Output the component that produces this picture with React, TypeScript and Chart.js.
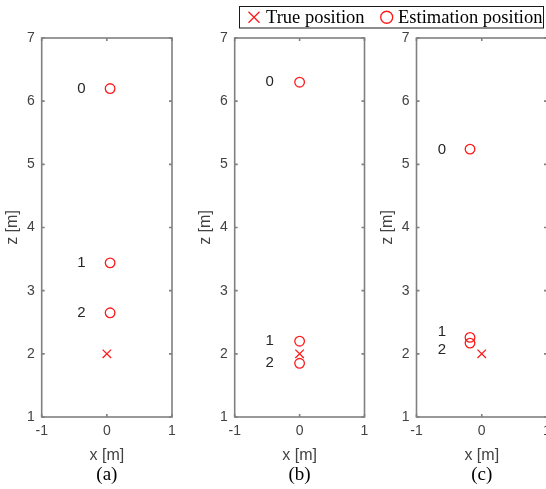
import React, { useEffect, useRef } from 'react';
import { Chart, registerables } from 'chart.js';

Chart.register(...registerables);

// ---------- data ----------
const panelCaptions = ['(a)', '(b)', '(c)'];
const xTickValues = [-1, 0, 1];
const zTickValues = [1, 2, 3, 4, 5, 6, 7];
const stepLabels = ['0', '1', '2'];
const legendLabels = ['True position', 'Estimation position'];

// true position per panel
const trueX = [0, 0, 0];
const trueZ = [2, 2, 2];

// estimated positions (steps 0,1,2) per panel
const estX_a = [0.05, 0.05, 0.05];
const estZ_a = [6.2, 3.44, 2.65];
const estX_b = [0, 0, 0];
const estZ_b = [6.3, 2.2, 1.85];
const estX_c = [-0.18, -0.18, -0.18];
const estZ_c = [5.24, 2.26, 2.17];

// step label anchors
const labelX_a = [-0.39, -0.39, -0.39];
const labelZ_a = [6.2, 3.44, 2.65];
const labelX_b = [-0.46, -0.46, -0.46];
const labelZ_b = [6.31, 2.2, 1.86];
const labelX_c = [-0.61, -0.61, -0.61];
const labelZ_c = [5.23, 2.35, 2.06];

const estXs = [estX_a, estX_b, estX_c];
const estZs = [estZ_a, estZ_b, estZ_c];
const labelXs = [labelX_a, labelX_b, labelX_c];
const labelZs = [labelZ_a, labelZ_b, labelZ_c];

// ---------- layout / style ----------
const CANVAS_W = 600;
const CANVAS_H = 489;
const panelLeft = [41.7, 234.7, 416.5];
const panelRight = [172, 364.5, 547];
const Y_AXIS_W = 41.5;
const X_AXIS_H = 50;
const RED = '#ff1a1a';
const AXIS_COLOR = '#808080';
const TICK_TEXT = '#424242';
const SANS = '"Liberation Sans", Arial, sans-serif';
const SERIF = '"Liberation Serif", "Times New Roman", serif';

function makePlugin(idx: number) {
  return {
    id: 'panelDecor' + idx,
    afterDraw(chart: any) {
      const ctx = chart.ctx;
      const { left, right, top, bottom } = chart.chartArea;
      const xs = chart.scales.x;
      const ys = chart.scales.y;
      ctx.save();
      // box
      ctx.strokeStyle = AXIS_COLOR;
      ctx.lineWidth = 1.6;
      ctx.strokeRect(left, top, right - left, bottom - top);
      // inward ticks
      const tl = 3;
      ctx.beginPath();
      for (const v of zTickValues) {
        const py = ys.getPixelForValue(v);
        ctx.moveTo(left, py);
        ctx.lineTo(left + tl, py);
        ctx.moveTo(right, py);
        ctx.lineTo(right - tl, py);
      }
      for (const v of xTickValues) {
        const px = xs.getPixelForValue(v);
        ctx.moveTo(px, bottom);
        ctx.lineTo(px, bottom - tl);
        ctx.moveTo(px, top);
        ctx.lineTo(px, top + tl);
      }
      ctx.stroke();
      // step labels
      ctx.fillStyle = '#262626';
      ctx.font = '15px ' + SANS;
      ctx.textAlign = 'center';
      ctx.textBaseline = 'middle';
      const lx = labelXs[idx];
      const lz = labelZs[idx];
      for (let i = 0; i < stepLabels.length; i++) {
        ctx.fillText(stepLabels[i], xs.getPixelForValue(lx[i]), ys.getPixelForValue(lz[i]));
      }
      // caption
      ctx.fillStyle = '#000';
      ctx.font = '19px ' + SERIF;
      ctx.fillText(panelCaptions[idx], xs.getPixelForValue(0), 475);

      // legend (drawn once, on the last panel)
      if (idx === 2) {
        const bx = 239, by = 6, bw = 304, bh = 21.5;
        ctx.fillStyle = '#fff';
        ctx.fillRect(bx, by, bw, bh);
        ctx.strokeStyle = '#1a1a1a';
        ctx.lineWidth = 1;
        ctx.strokeRect(bx + 0.5, by + 0.5, bw, bh);
        const cy = by + bh / 2 + 0.5;
        // cross
        ctx.strokeStyle = RED;
        ctx.lineWidth = 1.3;
        const cx = 254, h = 5.5;
        ctx.beginPath();
        ctx.moveTo(cx - h, cy - h);
        ctx.lineTo(cx + h, cy + h);
        ctx.moveTo(cx - h, cy + h);
        ctx.lineTo(cx + h, cy - h);
        ctx.stroke();
        // circle
        ctx.beginPath();
        ctx.arc(386.7, cy, 6, 0, Math.PI * 2);
        ctx.stroke();
        ctx.fillStyle = '#000';
        ctx.font = '18.5px ' + SERIF;
        ctx.textAlign = 'left';
        ctx.textBaseline = 'middle';
        ctx.fillText(legendLabels[0], 266, cy + 1);
        ctx.fillText(legendLabels[1], 398, cy + 1);
      }
      ctx.restore();
    },
  };
}

function buildConfig(idx: number): any {
  return {
    type: 'scatter',
    data: {
      datasets: [
        {
          label: legendLabels[0],
          data: [{ x: trueX[idx], y: trueZ[idx] }],
          pointStyle: 'crossRot',
          pointRadius: 6,
          borderColor: RED,
          backgroundColor: 'transparent',
          borderWidth: 1.3,
        },
        {
          label: legendLabels[1],
          data: estXs[idx].map((x, i) => ({ x, y: estZs[idx][i] })),
          pointStyle: 'circle',
          pointRadius: 4.8,
          borderColor: RED,
          backgroundColor: 'transparent',
          borderWidth: 1.3,
        },
      ],
    },
    options: {
      responsive: false,
      animation: false,
      devicePixelRatio: 1,
      events: [],
      layout: {
        padding: {
          left: panelLeft[idx] - Y_AXIS_W,
          right: CANVAS_W - panelRight[idx],
          top: 38,
          bottom: CANVAS_H - 417 - X_AXIS_H,
        },
      },
      plugins: { legend: { display: false }, tooltip: { enabled: false } },
      scales: {
        x: {
          type: 'linear',
          min: -1,
          max: 1,
          afterBuildTicks: (s: any) => {
            s.ticks = xTickValues.map((v) => ({ value: v }));
          },
          afterFit: (s: any) => {
            s.height = X_AXIS_H;
          },
          grid: { display: false, drawTicks: false },
          border: { display: false },
          ticks: { padding: 6, color: TICK_TEXT, font: { family: SANS, size: 14 } },
          title: {
            display: true,
            text: 'x [m]',
            color: TICK_TEXT,
            font: { family: SANS, size: 16 },
            padding: { top: 0, bottom: 2 },
          },
        },
        y: {
          type: 'linear',
          min: 1,
          max: 7,
          afterBuildTicks: (s: any) => {
            s.ticks = zTickValues.map((v) => ({ value: v }));
          },
          afterFit: (s: any) => {
            s.width = Y_AXIS_W;
          },
          grid: { display: false, drawTicks: false },
          border: { display: false },
          ticks: { padding: 7, color: TICK_TEXT, font: { family: SANS, size: 14 } },
          title: {
            display: true,
            text: 'z [m]',
            color: TICK_TEXT,
            font: { family: SANS, size: 16 },
            padding: { top: 3, bottom: 0 },
          },
        },
      },
    },
    plugins: [makePlugin(idx)],
  };
}

export default function App() {
  const refA = useRef<HTMLCanvasElement | null>(null);
  const refB = useRef<HTMLCanvasElement | null>(null);
  const refC = useRef<HTMLCanvasElement | null>(null);

  useEffect(() => {
    const refs = [refA, refB, refC];
    const charts = refs.map((r, i) => new Chart(r.current as HTMLCanvasElement, buildConfig(i)));
    return () => charts.forEach((c) => c.destroy());
  }, []);

  const canvasStyle: React.CSSProperties = {
    position: 'absolute',
    left: 0,
    top: 0,
    width: CANVAS_W,
    height: CANVAS_H,
  };

  return (
    <div
      style={{
        position: 'fixed',
        left: 0,
        top: 0,
        width: 546,
        height: 489,
        overflow: 'hidden',
        background: '#fff',
      }}
    >
      <canvas ref={refA} width={CANVAS_W} height={CANVAS_H} style={canvasStyle} />
      <canvas ref={refB} width={CANVAS_W} height={CANVAS_H} style={canvasStyle} />
      <canvas ref={refC} width={CANVAS_W} height={CANVAS_H} style={canvasStyle} />
    </div>
  );
}
